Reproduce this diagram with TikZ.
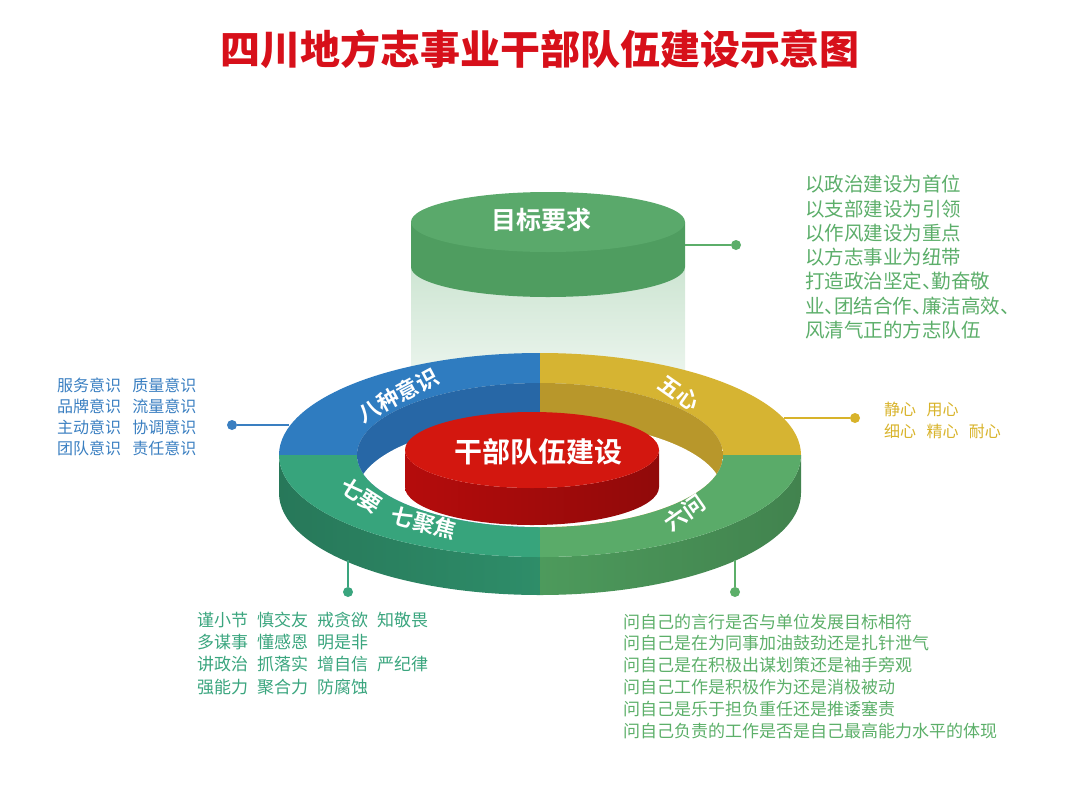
\documentclass[tikz,border=0pt]{standalone}
\usepackage{fontspec}
\setmainfont{Noto Sans CJK SC}[BoldFont={Noto Sans CJK SC Bold}]
\newfontfamily\titlefont{Noto Sans CJK SC Black}
\usetikzlibrary{calc}

\definecolor{titlered}{HTML}{D7101A}
\definecolor{ringblue}{HTML}{2F7CC0}
\definecolor{wallblue}{HTML}{2767A6}
\definecolor{ringyellow}{HTML}{D6B432}
\definecolor{wallyellow}{HTML}{B8972B}
\definecolor{ringteal}{HTML}{37A47C}
\definecolor{sideteal}{HTML}{2E8D69}
\definecolor{ringgreen}{HTML}{5AAB69}
\definecolor{sidegreen}{HTML}{4D9A5C}
\definecolor{corered}{HTML}{D3170F}
\definecolor{sidered}{HTML}{B50C0C}
\definecolor{goaltop}{HTML}{5AA96B}
\definecolor{goalside}{HTML}{4F9D60}
\definecolor{txtgoal}{HTML}{5CAE6A}
\definecolor{txtblue}{HTML}{3A7FC1}
\definecolor{txtyellow}{HTML}{D8B32A}
\definecolor{txtteal}{HTML}{3AA57E}
\definecolor{txtgreen}{HTML}{5CAF69}

\newcommand{\halfdun}{\makebox[0.5em][l]{、}}

\tikzset{
  dot/.style={circle, fill=#1, inner sep=0pt, minimum size=10pt},
  link/.style={draw=#1, line width=1.8pt},
  ringlabel/.style={text=white, font=\bfseries\fontsize{22}{22}\selectfont},
  notes/.style={anchor=north west, align=left, inner sep=0pt, text=#1},
}

\begin{document}
\begin{tikzpicture}[x=1pt,y=1pt]
    \useasboundingbox (0,0) rectangle (1080,-796);

    % 标题
    \node[text=titlered, font=\titlefont\fontsize{40}{40}\selectfont] (title) at (540,-49) {四川地方志事业干部队伍建设示意图};

    % 圆环参数
    \def\cx{540} \def\cy{-455}
    \def\ra{261} \def\rb{102}
    \def\ia{183} \def\ib{72}
    \def\ringh{38}

    % 目标要求 (透明柱)
    \shade[top color=goaltop!30, bottom color=goaltop!8] (411,-267) rectangle (685,-400);
    \fill[goalside] (411,-222) -- ++(0,-45) arc[start angle=180, end angle=360, x radius=137, y radius=30] -- ++(0,45) -- cycle;
    \fill[goaltop] (548,-222) ellipse[x radius=137, y radius=30];
    \node[text=white, font=\bfseries\fontsize{25}{25}\selectfont] (goal) at (541,-220) {目标要求};

    % 圆环外侧面
    \shade[left color=sideteal!85!black, right color=sideteal] (\cx-\ra,\cy) arc[start angle=180, end angle=270, x radius=\ra, y radius=\rb] -- ++(0,-\ringh) arc[start angle=270, end angle=180, x radius=\ra, y radius=\rb] -- cycle;
    \shade[left color=sidegreen, right color=sidegreen!85!black] (\cx,\cy-\rb) arc[start angle=270, end angle=360, x radius=\ra, y radius=\rb] -- ++(0,-\ringh) arc[start angle=360, end angle=270, x radius=\ra, y radius=\rb] -- cycle;

    % 圆环上表面
    \fill[ringblue] (\cx,\cy+\rb) arc[start angle=90, end angle=180, x radius=\ra, y radius=\rb] -- (\cx-\ia,\cy) arc[start angle=180, end angle=90, x radius=\ia, y radius=\ib] -- cycle;
    \fill[ringyellow] (\cx,\cy+\rb) arc[start angle=90, end angle=0, x radius=\ra, y radius=\rb] -- (\cx+\ia,\cy) arc[start angle=0, end angle=90, x radius=\ia, y radius=\ib] -- cycle;
    \fill[ringteal] (\cx-\ra,\cy) arc[start angle=180, end angle=270, x radius=\ra, y radius=\rb] -- (\cx,\cy-\ib) arc[start angle=270, end angle=180, x radius=\ia, y radius=\ib] -- cycle;
    \fill[ringgreen] (\cx,\cy-\rb) arc[start angle=270, end angle=360, x radius=\ra, y radius=\rb] -- (\cx+\ia,\cy) arc[start angle=360, end angle=270, x radius=\ia, y radius=\ib] -- cycle;

    % 圆环内壁
    \begin{scope}
        \clip (\cx,\cy) ellipse[x radius=\ia, y radius=\ib];
        \fill[wallblue] (\cx-\ia,\cy-\ib) rectangle (\cx,\cy+\ib);
        \fill[wallyellow] (\cx,\cy-\ib) rectangle (\cx+\ia,\cy+\ib);
        \fill[white] (\cx,\cy-\ringh) ellipse[x radius=\ia, y radius=\ib];
    \end{scope}

    % 中心红柱
    \shade[left color=sidered, right color=sidered!80!black] (405,-450) arc[start angle=180, end angle=360, x radius=127, y radius=38] -- ++(0,-37) arc[start angle=360, end angle=180, x radius=127, y radius=38] -- cycle;
    \fill[corered] (532,-450) ellipse[x radius=127, y radius=38];
    \node[text=white, font=\bfseries\fontsize{28}{28}\selectfont] (core) at (538,-452) {干部队伍建设};

    % 圆环标签
    \node[ringlabel, rotate=28] (eight) at (398,-395) {八种意识};
    \node[ringlabel, rotate=-35] (five) at (679,-393) {五心};
    \node[ringlabel, rotate=-33] (sevenA) at (361,-496) {七要};
    \node[ringlabel, rotate=-15] (sevenB) at (424,-523) {七聚焦};
    \node[ringlabel, rotate=35] (six) at (685,-513) {六问};

    % 连接线
    \coordinate (goalE) at (685,-245);
    \node[dot=txtgoal] (goalDot) at (736,-245) {};
    \draw[link=txtgoal] (goalE) -- (goalDot);

    \coordinate (ringW) at (289,-425);
    \node[dot=txtblue] (blueDot) at (232,-425) {};
    \draw[link=txtblue] (ringW) -- (blueDot);

    \coordinate (ringE) at (784,-418);
    \node[dot=txtyellow] (yellowDot) at (855,-418) {};
    \draw[link=txtyellow] (ringE) -- (yellowDot);

    \coordinate (ringSW) at (348,-560);
    \node[dot=txtteal] (tealDot) at (348,-592) {};
    \draw[link=txtteal] (ringSW) -- (tealDot);

    \coordinate (ringSE) at (735,-560);
    \node[dot=txtgreen] (greenDot) at (735,-592) {};
    \draw[link=txtgreen] (ringSE) -- (greenDot);

    % 说明文字
    \node[notes=txtgoal, font=\fontsize{19.5}{24.3}\selectfont] (goalText) at (805,-175) {以政治建设为首位\\以支部建设为引领\\以作风建设为重点\\以方志事业为纽带\\打造政治坚定\halfdun 勤奋敬\\业\halfdun 团结合作\halfdun 廉洁高效\halfdun\\风清气正的方志队伍};

    \node[notes=txtblue, font=\fontsize{16}{21}\selectfont] (blueText) at (57,-378) {服务意识\hspace{0.7em}质量意识\\品牌意识\hspace{0.7em}流量意识\\主动意识\hspace{0.7em}协调意识\\团队意识\hspace{0.7em}责任意识};

    \node[notes=txtyellow, font=\fontsize{16}{22}\selectfont] (yellowText) at (884,-402) {静心\hspace{0.65em}用心\\细心\hspace{0.65em}精心\hspace{0.65em}耐心};

    \node[notes=txtteal, font=\fontsize{17}{22.3}\selectfont] (tealText) at (197,-611.5) {谨小节\hspace{0.53em}慎交友\hspace{0.53em}戒贪欲\hspace{0.53em}知敬畏\\多谋事\hspace{0.53em}懂感恩\hspace{0.53em}明是非\\讲政治\hspace{0.53em}抓落实\hspace{0.53em}增自信\hspace{0.53em}严纪律\\强能力\hspace{0.53em}聚合力\hspace{0.53em}防腐蚀};

    \node[notes=txtgreen, font=\fontsize{17}{21.8}\selectfont] (greenText) at (623,-613.5) {问自己的言行是否与单位发展目标相符\\问自己是在为同事加油鼓劲还是扎针泄气\\问自己是在积极出谋划策还是袖手旁观\\问自己工作是积极作为还是消极被动\\问自己是乐于担负重任还是推诿塞责\\问自己负责的工作是否是自己最高能力水平的体现};

\end{tikzpicture}
\end{document}
